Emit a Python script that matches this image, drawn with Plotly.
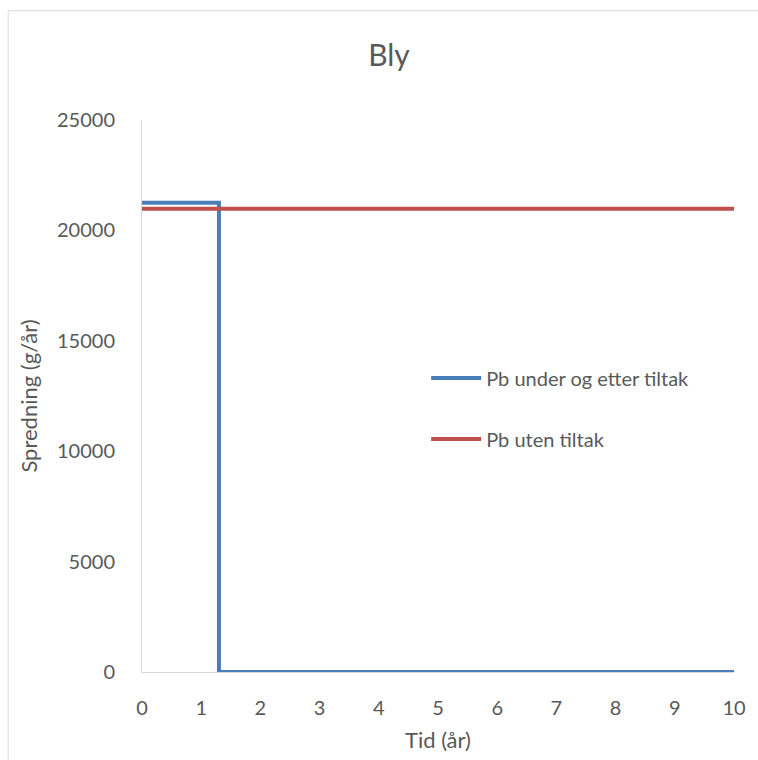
import plotly.graph_objects as go

# Spreading of lead (Pb) over time, with and without remediation
tid_under = [0, 1.3, 1.3, 10]
pb_under = [21250, 21250, 0, 0]

tid_uten = [0, 10]
pb_uten = [20980, 20980]

x_ticks = list(range(0, 11))
y_ticks = [0, 5000, 10000, 15000, 20000, 25000]

FONT = "Lato, Calibri, Carlito, sans-serif"
GREY = "#595959"

fig = go.Figure()
fig.add_trace(go.Scatter(
    x=tid_under, y=pb_under, mode="lines", name="Pb under og etter tiltak",
    line=dict(color="#4A7EBB", width=4), legendgroup="a", cliponaxis=False,
))
fig.add_trace(go.Scatter(
    x=tid_uten, y=pb_uten, mode="lines", name="Pb uten tiltak",
    line=dict(color="#C0504D", width=4), legendgroup="b", cliponaxis=False,
))

fig.update_layout(
    width=758, height=760,
    margin=dict(l=142, r=21, t=120, b=87),
    paper_bgcolor="white", plot_bgcolor="white",
    font=dict(family=FONT, color=GREY, size=20),
    title=dict(text="Bly", x=389 / 758, xref="container", xanchor="center",
               y=1 - 55 / 760, yref="container", yanchor="middle",
               font=dict(size=30, color=GREY, family=FONT)),
    showlegend=True,
    legend=dict(x=0.48, y=(673 - 409) / 553, xanchor="left", yanchor="middle",
                bgcolor="rgba(0,0,0,0)", tracegroupgap=32, itemwidth=50,
                font=dict(size=20, color=GREY, family=FONT)),
    xaxis=dict(range=[0, 10], tickvals=x_ticks, showgrid=False, zeroline=False,
               showline=True, linecolor="#D9D9D9", linewidth=1, ticks="",
               ticklabelstandoff=18, tickfont=dict(size=20, color=GREY),
               title=dict(text="Tid (år)", font=dict(size=22, color=GREY), standoff=14)),
    yaxis=dict(range=[0, 25000], tickvals=y_ticks, tickformat="d",
               showgrid=False, zeroline=False,
               showline=True, linecolor="#D9D9D9", linewidth=1, ticks="",
               ticklabelstandoff=22, tickfont=dict(size=20, color=GREY),
               title=dict(text="Spredning (g/år)", font=dict(size=22, color=GREY), standoff=13)),
    shapes=[dict(type="rect", xref="paper", yref="paper",
                 x0=(7.5 - 142) / 595, x1=1.2, y0=-0.3, y1=1 + (120 - 10.5) / 553,
                 line=dict(color="#D9D9D9", width=1), fillcolor="rgba(0,0,0,0)",
                 layer="below")],
)

fig.write_html("out.html")
